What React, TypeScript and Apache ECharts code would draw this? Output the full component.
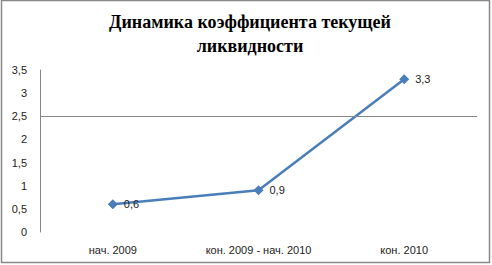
import React, { useEffect, useRef } from "react";
import * as echarts from "echarts";

const categories = ["нач. 2009", "кон. 2009 - нач. 2010", "кон. 2010"];
const values = [0.6, 0.9, 3.3];
const titleLines = ["Динамика коэффициента текущей", "ликвидности"];
const refLineValue = 2.5;

const fmt = (v: number) => String(v).replace(".", ",");

export default function App() {
  const ref = useRef<HTMLDivElement>(null);
  useEffect(() => {
    const chart = echarts.init(ref.current!, null, { renderer: "svg" });
    chart.setOption({
      animation: false,
      backgroundColor: "#ffffff",
      title: {
        text: titleLines.join("\n"),
        left: 245,
        textAlign: "center",
        top: 5,
        textStyle: {
          fontFamily: "'Liberation Serif', 'DejaVu Serif', serif",
          fontWeight: "bold",
          fontSize: 18,
          lineHeight: 24,
          color: "#000",
        },
      },
      grid: { left: 40, right: 15, top: 70, bottom: 33 },
      xAxis: {
        type: "category",
        data: categories,
        axisLine: { show: false },
        axisTick: { show: false },
        axisLabel: {
          fontFamily: "'Liberation Sans', sans-serif",
          fontSize: 11,
          color: "#222",
          margin: 12,
        },
      },
      yAxis: {
        type: "value",
        min: 0,
        max: 3.5,
        interval: 0.5,
        axisLine: { show: true, lineStyle: { color: "#868686", width: 1 } },
        axisTick: { show: false },
        splitLine: { show: false },
        axisLabel: {
          fontFamily: "'Liberation Sans', sans-serif",
          fontSize: 11,
          color: "#222",
          margin: 13,
          formatter: (v: number) => fmt(v),
        },
      },
      series: [
        {
          type: "line",
          data: values,
          symbol: "diamond",
          symbolSize: 10,
          lineStyle: { color: "#4A7EBB", width: 2.5 },
          itemStyle: { color: "#4A7EBB" },
          label: {
            show: true,
            position: "right",
            distance: 6,
            fontFamily: "'Liberation Sans', sans-serif",
            fontSize: 11,
            color: "#222",
            formatter: (p: any) => fmt(p.value),
          },
          markLine: {
            silent: true,
            symbol: "none",
            label: { show: false },
            lineStyle: { color: "#868686", width: 1, type: "solid" },
            data: [{ yAxis: refLineValue }],
          },
        },
      ],
      graphic: [
        {
          type: "rect",
          shape: { x: 1.5, y: 0.5, width: 488, height: 262 },
          style: { fill: "none", stroke: "#888888", lineWidth: 1.5 },
          silent: true,
        },
      ],
    });
    return () => chart.dispose();
  }, []);
  return (
    <div
      ref={ref}
      style={{ position: "fixed", left: 0, top: 0, width: 492, height: 265 }}
    />
  );
}
